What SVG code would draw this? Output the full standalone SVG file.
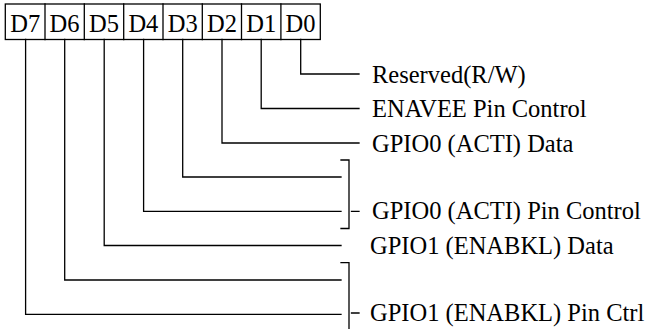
<svg xmlns="http://www.w3.org/2000/svg" width="645" height="329" viewBox="0 0 645 329">
<style>
.ln{fill:none;stroke:#000;stroke-width:1.3;stroke-linecap:square}
.cell{fill:#fff;stroke:#000;stroke-width:1.3}
.t{font-family:"Liberation Serif","Times New Roman",serif;font-size:24.5px;fill:#000}
.c{text-anchor:middle}
</style>
<rect width="645" height="329" fill="#fff"/>
<g id="register">
<rect class="cell" x="5.3" y="4" width="315" height="35.5"/>
<path class="ln" d="M45 4V39.5M84.3 4V39.5M123.7 4V39.5M163 4V39.5M202.3 4V39.5M241.5 4V39.5M280.9 4V39.5"/>
<text class="t c" x="25.2" y="32">D7</text>
<text class="t c" x="64.6" y="32">D6</text>
<text class="t c" x="104" y="32">D5</text>
<text class="t c" x="143.4" y="32">D4</text>
<text class="t c" x="182.7" y="32">D3</text>
<text class="t c" x="222" y="32">D2</text>
<text class="t c" x="261.2" y="32">D1</text>
<text class="t c" x="300.6" y="32">D0</text>
</g>
<g id="connectors">
<path class="ln" d="M300.7 39.5V74H359"/>
<path class="ln" d="M261.2 39.5V108.5H359"/>
<path class="ln" d="M222 39.5V143H359"/>
<path class="ln" d="M182.7 39.5V177H341"/>
<path class="ln" d="M143.6 39.5V211.3H341"/>
<path class="ln" d="M104.2 39.5V245.5H341"/>
<path class="ln" d="M64.7 39.5V280H341"/>
<path class="ln" d="M25.6 39.5V314.3H341"/>
<path class="ln" d="M341 160H349V228.5H341M351.5 211.3H359"/>
<path class="ln" d="M341 262.7H349V330M351.5 313H359"/>
</g>
<g id="labels">
<text id="l0" class="t" x="372" y="82.5">Reserved(R/W)</text>
<text id="l1" class="t" x="372" y="117">ENAVEE Pin Control</text>
<text id="l2" class="t" x="372" y="151.5">GPIO0 (ACTI) Data</text>
<text id="l3" class="t" x="372" y="218.5">GPIO0 (ACTI) Pin Control</text>
<text id="l4" class="t" x="370" y="254">GPIO1 (ENABKL) Data</text>
<text id="l5" class="t" x="370" y="321">GPIO1 (ENABKL) Pin Ctrl</text>
</g>
</svg>
